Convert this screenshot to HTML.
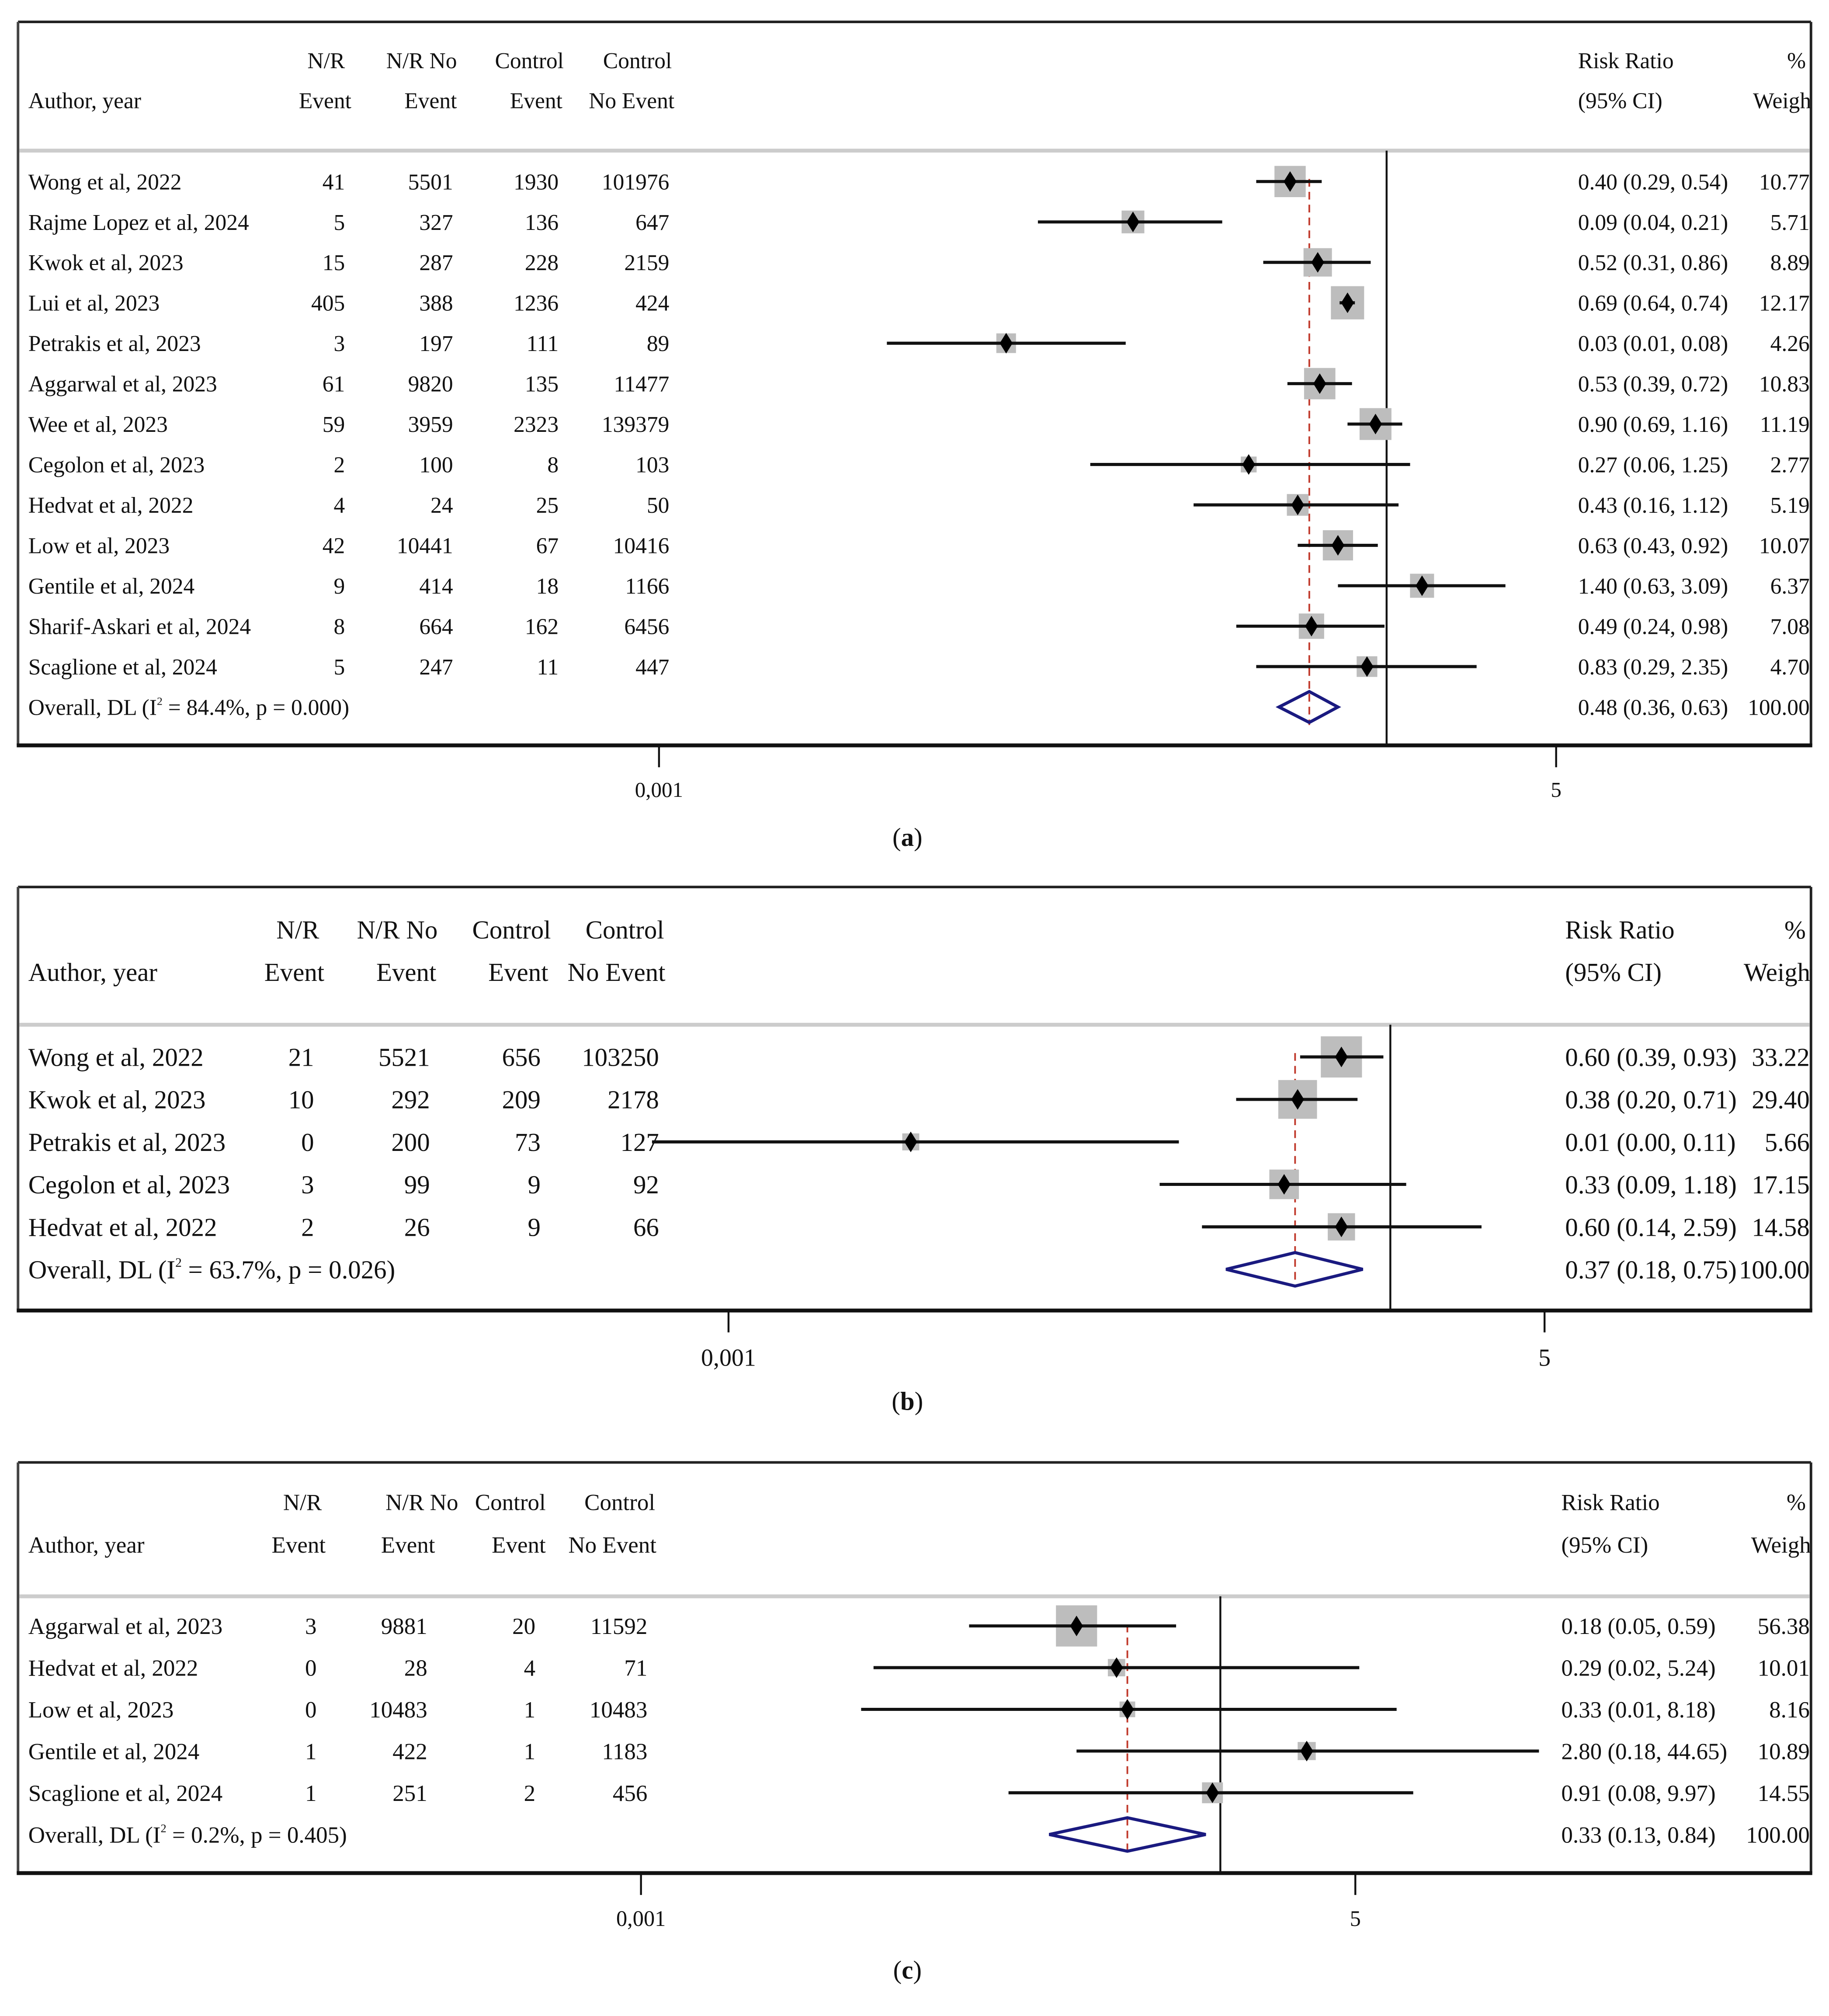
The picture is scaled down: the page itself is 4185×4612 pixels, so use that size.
<!DOCTYPE html>
<html><head><meta charset="utf-8">
<style>
html,body{margin:0;padding:0;background:#fff;}
svg{display:block;}
text{font-family:"Liberation Serif",serif;fill:#111;}
</style></head>
<body>
<svg id="fig" xmlns="http://www.w3.org/2000/svg" width="4185" height="4612" viewBox="0 0 1421 1566" preserveAspectRatio="none">
<rect x="0" y="0" width="1421" height="1566" fill="#fff"/>
</svg>
<script>
// ---------- Panel A data ----------
const aStudies = ["Wong et al, 2022","Rajme Lopez et al, 2024","Kwok et al, 2023","Lui et al, 2023","Petrakis et al, 2023","Aggarwal et al, 2023","Wee et al, 2023","Cegolon et al, 2023","Hedvat et al, 2022","Low et al, 2023","Gentile et al, 2024","Sharif-Askari et al, 2024","Scaglione et al, 2024"];
const aNrEvent = [41,5,15,405,3,61,59,2,4,42,9,8,5];
const aNrNoEvent = [5501,327,287,388,197,9820,3959,100,24,10441,414,664,247];
const aCtrlEvent = [1930,136,228,1236,111,135,2323,8,25,67,18,162,11];
const aCtrlNoEvent = [101976,647,2159,424,89,11477,139379,103,50,10416,1166,6456,447];
const aRR = [0.40,0.09,0.52,0.69,0.027,0.53,0.90,0.27,0.43,0.63,1.40,0.49,0.83];
const aLo = [0.29,0.0365,0.31,0.64,0.0087,0.39,0.69,0.06,0.16,0.43,0.63,0.24,0.29];
const aHi = [0.54,0.21,0.86,0.74,0.084,0.72,1.16,1.25,1.12,0.92,3.09,0.98,2.35];
const aWeight = [10.77,5.71,8.89,12.17,4.26,10.83,11.19,2.77,5.19,10.07,6.37,7.08,4.70];
const aRRText = ["0.40 (0.29, 0.54)","0.09 (0.04, 0.21)","0.52 (0.31, 0.86)","0.69 (0.64, 0.74)","0.03 (0.01, 0.08)","0.53 (0.39, 0.72)","0.90 (0.69, 1.16)","0.27 (0.06, 1.25)","0.43 (0.16, 1.12)","0.63 (0.43, 0.92)","1.40 (0.63, 3.09)","0.49 (0.24, 0.98)","0.83 (0.29, 2.35)"];
const aWeightText = ["10.77","5.71","8.89","12.17","4.26","10.83","11.19","2.77","5.19","10.07","6.37","7.08","4.70"];
const aOverall = [0.48,0.36,0.63];
const aOverallLabel = "Overall, DL (I² = 84.4%, p = 0.000)";
const aOverallText = ["0.48 (0.36, 0.63)","100.00"];
const aTicks = [0.001,5];
const aTickLabels = ["0,001","5"];

// ---------- Panel B data ----------
const bStudies = ["Wong et al, 2022","Kwok et al, 2023","Petrakis et al, 2023","Cegolon et al, 2023","Hedvat et al, 2022"];
const bNrEvent = [21,10,0,3,2];
const bNrNoEvent = [5521,292,200,99,26];
const bCtrlEvent = [656,209,73,9,9];
const bCtrlNoEvent = [103250,2178,127,92,66];
const bRR = [0.60,0.38,0.0067,0.33,0.60];
const bLo = [0.39,0.20,0.00045,0.09,0.14];
const bHi = [0.93,0.71,0.11,1.18,2.59];
const bWeight = [33.22,29.40,5.66,17.15,14.58];
const bRRText = ["0.60 (0.39, 0.93)","0.38 (0.20, 0.71)","0.01 (0.00, 0.11)","0.33 (0.09, 1.18)","0.60 (0.14, 2.59)"];
const bWeightText = ["33.22","29.40","5.66","17.15","14.58"];
const bOverall = [0.37,0.18,0.75];
const bOverallLabel = "Overall, DL (I² = 63.7%, p = 0.026)";
const bOverallText = ["0.37 (0.18, 0.75)","100.00"];
const bTicks = [0.001,5];
const bTickLabels = ["0,001","5"];

// ---------- Panel C data ----------
const cStudies = ["Aggarwal et al, 2023","Hedvat et al, 2022","Low et al, 2023","Gentile et al, 2024","Scaglione et al, 2024"];
const cNrEvent = [3,0,0,1,1];
const cNrNoEvent = [9881,28,10483,422,251];
const cCtrlEvent = [20,4,1,1,2];
const cCtrlNoEvent = [11592,71,10483,1183,456];
const cRR = [0.18,0.29,0.33,2.80,0.91];
const cLo = [0.05,0.016,0.0138,0.18,0.08];
const cHi = [0.59,5.24,8.18,44.65,9.97];
const cWeight = [56.38,10.01,8.16,10.89,14.55];
const cRRText = ["0.18 (0.05, 0.59)","0.29 (0.02, 5.24)","0.33 (0.01, 8.18)","2.80 (0.18, 44.65)","0.91 (0.08, 9.97)"];
const cWeightText = ["56.38","10.01","8.16","10.89","14.55"];
const cOverall = [0.33,0.13,0.84];
const cOverallLabel = "Overall, DL (I² = 0.2%, p = 0.405)";
const cOverallText = ["0.33 (0.13, 0.84)","100.00"];
const cTicks = [0.001,5];
const cTickLabels = ["0,001","5"];

const NS = "http://www.w3.org/2000/svg";
const svg = document.getElementById('fig');
function mk(tag, attrs, parent){
  const e = document.createElementNS(NS, tag);
  for (const k in attrs) e.setAttribute(k, attrs[k]);
  (parent||svg).appendChild(e);
  return e;
}
function txt(parent, x, y, s, size, anchor){
  const t = mk('text', {x:x, y:y, 'font-size':size, 'text-anchor':anchor||'start'}, parent);
  t.textContent = s;
  return t;
}

function drawPanel(p){
  const g = mk('g', {});
  
  
  const clipId = 'clip' + p.id;
  const cp = mk('clipPath', {id: clipId}, g);
  mk('rect', {x:14, y:p.top, width:1393, height:p.bottom-p.top}, cp);
  const pxPerDec = (p.x5 - p.x001) / (Math.log10(p.ticks[1]) - Math.log10(p.ticks[0]));
  const X = v => p.x001 + (Math.log10(v) - Math.log10(p.ticks[0])) * pxPerDec;
  const fs = p.fs;
  const frame = mk('g', {}, g);
  
  
  mk('line', {x1:14, y1:p.top, x2:1407, y2:p.top, stroke:'#222', 'stroke-width':2}, frame);
  mk('line', {x1:14, y1:p.top, x2:14, y2:p.bottom, stroke:'#444', 'stroke-width':2}, frame);
  mk('line', {x1:1407, y1:p.top, x2:1407, y2:p.bottom, stroke:'#222', 'stroke-width':2}, frame);
  mk('line', {x1:13, y1:p.bottom, x2:1408, y2:p.bottom, stroke:'#111', 'stroke-width':3}, frame);
  mk('line', {x1:15, y1:p.sep, x2:1406, y2:p.sep, stroke:'#ccc', 'stroke-width':3}, frame);
  const hg = mk('g', {'clip-path':'url(#'+clipId+')'}, g);
  
  
  txt(hg, 22, p.h2, 'Author, year', fs);
  txt(hg, p.hc[0], p.h1, 'N/R', fs, 'end');
  txt(hg, p.hc[1], p.h2, 'Event', fs, 'end');
  txt(hg, p.hc[2], p.h1, 'N/R No', fs, 'end');
  txt(hg, p.hc[3], p.h2, 'Event', fs, 'end');
  txt(hg, p.hc[4], p.h1, 'Control', fs, 'end');
  txt(hg, p.hc[5], p.h2, 'Event', fs, 'end');
  txt(hg, p.hc[6], p.h1, 'Control', fs, 'end');
  txt(hg, p.hc[7], p.h2, 'No Event', fs, 'end');
  txt(hg, p.rrX, p.h1, 'Risk Ratio', fs);
  txt(hg, p.rrX, p.h2, '(95% CI)', fs);
  txt(hg, 1403, p.h1, '%', fs, 'end');
  txt(hg, 1412, p.h2, 'Weight', fs, 'end');
  const nl = mk('line', {x1:X(1), y1:p.sep, x2:X(1), y2:p.bottom, stroke:'#111', 'stroke-width':1.5}, g);
  
  
  const n = p.studies.length;
  const rowY = i => p.row0 + i * p.dy;
  const ol = mk('line', {x1:X(p.overall[0]), y1:p.sep+22, x2:X(p.overall[0]), y2:rowY(n)+14, stroke:'#c0392b', 'stroke-width':1.3, 'stroke-dasharray':'6,4'}, g);
  
  
  for (let i = 0; i < n; i++){
    const y = rowY(i);
    const rg = mk('g', {'clip-path':'url(#'+clipId+')'}, g);
    
    
    txt(rg, 22, y + fs*0.35, p.studies[i], fs);
    txt(rg, p.cc[0], y + fs*0.35, String(p.nrE[i]), fs, 'end');
    txt(rg, p.cc[1], y + fs*0.35, String(p.nrN[i]), fs, 'end');
    txt(rg, p.cc[2], y + fs*0.35, String(p.cE[i]), fs, 'end');
    txt(rg, p.cc[3], y + fs*0.35, String(p.cN[i]), fs, 'end');
    txt(rg, p.rrX, y + fs*0.35, p.rrText[i], fs);
    txt(rg, 1406, y + fs*0.35, p.wText[i], fs, 'end');
    const s = p.k * Math.sqrt(p.weight[i]);
    const box = mk('rect', {x:X(p.rr[i]) - s/2, y:y - s/2, width:s, height:s, fill:'#bdbdbd'}, rg);
    
    
    const ci = mk('line', {x1:Math.max(X(p.lo[i]), 20), y1:y, x2:X(p.hi[i]), y2:y, stroke:'#111', 'stroke-width':2.4}, rg);
    
    
    const cx = X(p.rr[i]);
    const pt = mk('polygon', {points:(cx-5)+','+y+' '+cx+','+(y-8)+' '+(cx+5)+','+y+' '+cx+','+(y+8), fill:'#000'}, rg);
    
    
  }
  const yo = rowY(n);
  const og = mk('g', {'clip-path':'url(#'+clipId+')'}, g);
  
  
  const lbl = txt(og, 22, yo + fs*0.35, '', fs);
  const parts = p.overallLabel.split('²');
  lbl.appendChild(document.createTextNode(parts[0]));
  const sup = mk('tspan', {'font-size':fs*0.5, dy:-fs*0.45}, lbl); sup.textContent = '2';
  const rest = mk('tspan', {dy:fs*0.45}, lbl); rest.textContent = parts[1];
  txt(og, p.rrX, yo + fs*0.35, p.overallText[0], fs);
  txt(og, 1406, yo + fs*0.35, p.overallText[1], fs, 'end');
  const xl = X(p.overall[1]), xm = X(p.overall[0]), xh = X(p.overall[2]);
  const dm = mk('polygon', {points:xl+','+yo+' '+xm+','+(yo-p.dh)+' '+xh+','+yo+' '+xm+','+(yo+p.dh), fill:'none', stroke:'#1a1a80', 'stroke-width':2.4}, og);
  
  
  for (let t = 0; t < p.ticks.length; t++){
    const tx = X(p.ticks[t]);
    const tk = mk('line', {x1:tx, y1:p.bottom, x2:tx, y2:p.bottom+17, stroke:'#111', 'stroke-width':1.5}, g);
    
    
    const tl = txt(g, tx, p.tickY, p.tickLabels[t], fs*0.95, 'middle');
    
    
  }
  const cap = mk('text', {x:705, y:p.capY, 'font-size':20, 'text-anchor':'middle'}, g);
  
  
  cap.appendChild(document.createTextNode('('));
  const bt = mk('tspan', {'font-weight':'bold'}, cap); bt.textContent = p.id;
  cap.appendChild(document.createTextNode(')'));
}

drawPanel({id:'a', top:17, bottom:579, sep:117, h1:53, h2:84, row0:141, dy:31.4, fs:17.5,
  hc:[268,273,355,355,438,437,522,524], cc:[268,352,434,520], rrX:1226,
  x001:512, x5:1209, k:7.4, dh:12, tickY:619, capY:657,
  studies:aStudies, nrE:aNrEvent, nrN:aNrNoEvent, cE:aCtrlEvent, cN:aCtrlNoEvent,
  rr:aRR, lo:aLo, hi:aHi, weight:aWeight, rrText:aRRText, wText:aWeightText,
  overall:aOverall, overallLabel:aOverallLabel, overallText:aOverallText, ticks:aTicks, tickLabels:aTickLabels});
drawPanel({id:'b', top:689, bottom:1018, sep:796, h1:729, h2:762, row0:821, dy:33, fs:20,
  hc:[248,252,340,339,428,426,516,517], cc:[244,334,420,512], rrX:1216,
  x001:566, x5:1200, k:5.55, dh:13, tickY:1061, capY:1095,
  studies:bStudies, nrE:bNrEvent, nrN:bNrNoEvent, cE:bCtrlEvent, cN:bCtrlNoEvent,
  rr:bRR, lo:bLo, hi:bHi, weight:bWeight, rrText:bRRText, wText:bWeightText,
  overall:bOverall, overallLabel:bOverallLabel, overallText:bOverallText, ticks:bTicks, tickLabels:bTickLabels});
drawPanel({id:'c', top:1136, bottom:1455, sep:1240, h1:1173, h2:1206, row0:1263, dy:32.4, fs:18,
  hc:[250,253,356,338,424,424,509,510], cc:[246,332,416,503], rrX:1213,
  x001:498, x5:1053, k:4.26, dh:13, tickY:1496, capY:1537,
  studies:cStudies, nrE:cNrEvent, nrN:cNrNoEvent, cE:cCtrlEvent, cN:cCtrlNoEvent,
  rr:cRR, lo:cLo, hi:cHi, weight:cWeight, rrText:cRRText, wText:cWeightText,
  overall:cOverall, overallLabel:cOverallLabel, overallText:cOverallText, ticks:cTicks, tickLabels:cTickLabels});
</script>
</body></html>
